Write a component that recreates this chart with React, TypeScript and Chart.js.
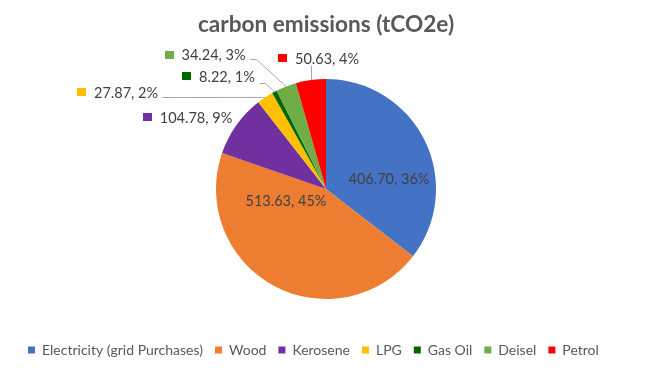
import React, { useEffect, useRef } from 'react';
import { Chart, registerables } from 'chart.js';

Chart.register(...registerables);

const chartTitle = 'carbon emissions (tCO2e)';
const categories = ['Electricity (grid Purchases)', 'Wood', 'Kerosene', 'LPG', 'Gas Oil', 'Deisel', 'Petrol'];
const emissions = [406.7, 513.63, 104.78, 27.87, 8.22, 34.24, 50.63];
const percentLabels = ['36%', '45%', '9%', '2%', '1%', '3%', '4%'];
const sliceColors = ['#4472C4', '#ED7D31', '#7030A0', '#FFC000', '#006600', '#70AD47', '#FF0000'];

// label placement: inside labels are offsets from the pie centre,
// outside labels are offsets from the slice's outer edge midpoint
type Placement = { mode: 'inside' | 'outside'; dx: number; dy: number; leader: 'none' | 'side' | 'below' };
const labelPlacements: Placement[] = [
  { mode: 'inside', dx: 63, dy: -9.5, leader: 'none' },
  { mode: 'inside', dx: -40, dy: 12.5, leader: 'none' },
  { mode: 'outside', dx: -40.5, dy: -6.6, leader: 'none' },
  { mode: 'outside', dx: -139, dy: -4, leader: 'side' },
  { mode: 'outside', dx: -47.5, dy: -14.4, leader: 'side' },
  { mode: 'outside', dx: -72.5, dy: -31, leader: 'side' },
  { mode: 'outside', dx: 16.3, dy: -20.6, leader: 'below' },
];

const FONT = 'Lato, "Open Sans", sans-serif';

const labelPlugin = {
  id: 'pieDataLabels',
  afterDatasetsDraw(chart: any) {
    const ctx = chart.ctx as CanvasRenderingContext2D;
    const meta = chart.getDatasetMeta(0);
    ctx.save();
    ctx.font = `14.5px ${FONT}`;
    ctx.textBaseline = 'middle';
    ctx.textAlign = 'left';
    meta.data.forEach((arc: any, i: number) => {
      const p = arc.getProps(['x', 'y', 'startAngle', 'endAngle', 'outerRadius'], true);
      const mid = (p.startAngle + p.endAngle) / 2;
      const ex = p.x + Math.cos(mid) * p.outerRadius;
      const ey = p.y + Math.sin(mid) * p.outerRadius;
      const text = `${emissions[i].toFixed(2)}, ${percentLabels[i]}`;
      const w = ctx.measureText(text).width;
      const pl = labelPlacements[i];
      let cx: number, cy: number;
      if (pl.mode === 'inside') {
        cx = p.x + pl.dx;
        cy = p.y + pl.dy;
      } else {
        cx = ex + pl.dx;
        cy = ey + pl.dy;
      }
      const left = cx - w / 2;
      ctx.fillStyle = '#404040';
      ctx.fillText(text, left, cy);
      if (pl.mode === 'outside') {
        // legend key square
        ctx.fillStyle = sliceColors[i];
        ctx.fillRect(Math.round(left - 17), Math.round(cy - 5), 9, 8);
        ctx.strokeStyle = '#A6A6A6';
        ctx.lineWidth = 1;
        if (pl.leader === 'side') {
          const sx = Math.round(cx + w / 2 + 4) + 0.5;
          const sy = Math.round(cy + (pl.dy < -20 ? 3 : pl.dy < -10 ? 6 : 4)) + 0.5;
          ctx.beginPath();
          ctx.moveTo(sx, sy);
          ctx.lineTo(sx + 6, sy);
          ctx.lineTo(ex, ey);
          ctx.stroke();
        } else if (pl.leader === 'below') {
          const lx = Math.round(ex) + 0.5;
          ctx.beginPath();
          ctx.moveTo(lx, Math.round(cy + 7));
          ctx.lineTo(lx, ey);
          ctx.stroke();
        }
      }
    });
    ctx.restore();
  },
};

export default function App() {
  const canvasRef = useRef<HTMLCanvasElement | null>(null);

  useEffect(() => {
    const canvas = canvasRef.current;
    if (!canvas) return;
    const chart = new Chart(canvas, {
      type: 'pie',
      data: {
        labels: categories,
        datasets: [
          {
            data: emissions,
            backgroundColor: sliceColors,
            borderWidth: 0,
            radius: 110,
          } as any,
        ],
      },
      options: {
        animation: false,
        responsive: false,
        devicePixelRatio: 1,
        layout: { padding: { left: 16, right: 28, top: 0, bottom: 3 } },
        plugins: {
          title: {
            display: true,
            text: chartTitle,
            color: '#595959',
            font: { family: FONT, size: 22.6, weight: 'bold' },
            padding: { top: 11.4, bottom: 8.5 },
          },
          legend: {
            position: 'bottom',
            align: 'start',
            labels: {
              boxWidth: 7,
              boxHeight: 7,
              padding: 12,
              color: '#595959',
              font: { family: FONT, size: 14 },
            },
          },
          tooltip: { enabled: false },
        },
      } as any,
      plugins: [labelPlugin],
    });
    return () => chart.destroy();
  }, []);

  return (
    <div style={{ position: 'fixed', left: 0, top: 0, width: 664, height: 370, background: '#fff' }}>
      <canvas ref={canvasRef} width={664} height={370} />
    </div>
  );
}
